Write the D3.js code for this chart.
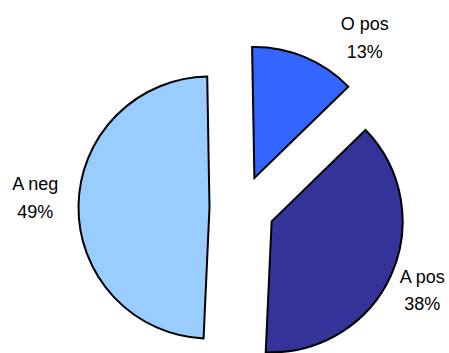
<!DOCTYPE html>
<html>
<head>
<meta charset="utf-8">
<script src="https://cdn.jsdelivr.net/npm/d3@7"></script>
<style>
  html, body { margin: 0; padding: 0; background: #ffffff; }
  svg { display: block; }
  text { font-family: "Liberation Sans", Arial, sans-serif; }
</style>
</head>
<body>
<svg id="chart" width="449" height="353"></svg>
<script>
// Blood group shares
const categories = ["O pos", "A pos", "A neg"];
const shares = [13, 38, 49];
const sliceColors = ["#3366FF", "#333399", "#99CCFF"];

// Label placement around the pie (angle nudge in degrees, distance from centre)
const labelLayout = [
  { nudge: 13.4, radius: 210 },
  { nudge: 0.3, radius: 198 },
  { nudge: 2.0, radius: 207 }
];

const width = 449, height = 353;
const cx = 242, cy = 208;
const radius = 131;
const explode = 32.5;
const rot = -1 * Math.PI / 180;

const svg = d3.select("#chart");
const g = svg.append("g").attr("transform", `translate(${cx},${cy})`);

const total = d3.sum(shares);
const pie = d3.pie()
  .sort(null)
  .startAngle(rot)
  .endAngle(rot + 2 * Math.PI)
  .value(d => d.value);

const data = categories.map((c, i) => ({ name: c, value: shares[i], color: sliceColors[i], layout: labelLayout[i] }));
const arcs = pie(data);

const arc = d3.arc().innerRadius(0).outerRadius(radius);

const mid = a => (a.startAngle + a.endAngle) / 2;

g.selectAll("path.slice")
  .data(arcs)
  .join("path")
  .attr("class", "slice")
  .attr("transform", a => {
    const m = mid(a);
    return `translate(${Math.sin(m) * explode},${-Math.cos(m) * explode})`;
  })
  .attr("d", arc)
  .attr("fill", a => a.data.color)
  .attr("stroke", "#000")
  .attr("stroke-width", 2)
  .attr("stroke-linejoin", "miter");

const fmt = d3.format(".0%");
const lineGap = 28;

const labels = g.selectAll("g.label")
  .data(arcs)
  .join("g")
  .attr("class", "label")
  .attr("transform", a => {
    const m = mid(a) + a.data.layout.nudge * Math.PI / 180;
    const r = a.data.layout.radius;
    return `translate(${Math.sin(m) * r},${-Math.cos(m) * r})`;
  });

labels.append("text")
  .attr("text-anchor", "middle")
  .attr("y", -lineGap / 2 + 6.4)
  .attr("font-size", 18)
  .attr("fill", "#000")
  .text(a => a.data.name);

labels.append("text")
  .attr("text-anchor", "middle")
  .attr("y", lineGap / 2 + 6.4)
  .attr("font-size", 18)
  .attr("fill", "#000")
  .text(a => fmt(a.data.value / total));
</script>
</body>
</html>
